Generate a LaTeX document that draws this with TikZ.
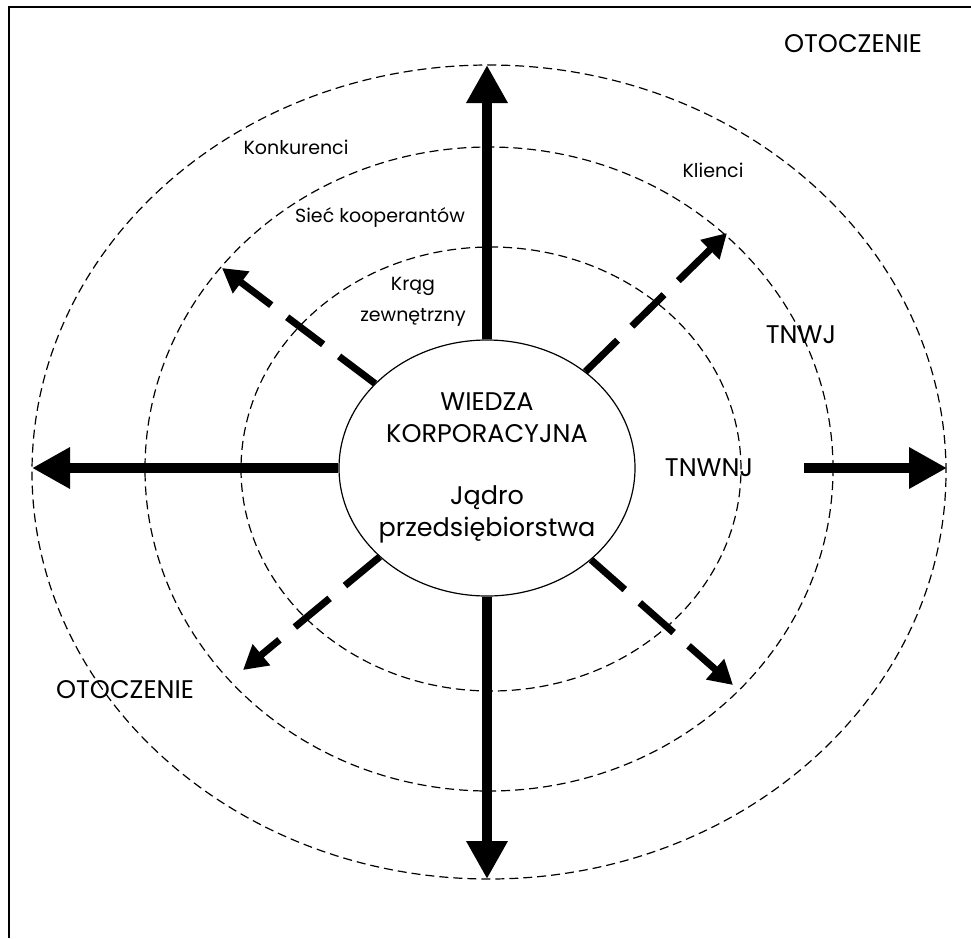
\documentclass[tikz,border=0pt]{standalone}
\usepackage{fontspec}
\setmainfont{Poppins}
\usetikzlibrary{arrows.meta,shapes.geometric}

\begin{document}
\begin{tikzpicture}[x=1pt,y=-1pt,
  ring/.style={draw,line width=1.2pt,dash pattern=on 9pt off 5pt},
  bigarrow/.style={line width=10pt,-{Triangle[length=38pt,width=39pt]}},
  dasharrow/.style={line width=7pt,dash pattern=on 45pt off 20pt,-{Triangle[length=24pt,width=26pt]}},
  lbl/.style={font=\fontsize{19}{31}\selectfont,align=center,inner sep=0pt},
  biglbl/.style={font=\fontsize{25.5}{32}\selectfont,align=center,inner sep=0pt}]
\useasboundingbox (0,0) rectangle (971,938);

% frame
\draw[line width=1.5pt] (9,938) -- (9,7) -- (971,7);

% dashed rings
\draw[ring] (489,472) ellipse [x radius=457pt, y radius=407pt];
\draw[ring] (489,469) ellipse [x radius=344pt, y radius=322pt];
\draw[ring] (491,469) ellipse [x radius=250pt, y radius=222pt];

% core
\node[ellipse,draw,fill=white,line width=1.2pt,minimum width=296pt,minimum height=256pt,inner sep=0pt] (core) at (487,468) {};

% tips and free ends
\coordinate (tUp) at (487,65);
\coordinate (tDown) at (487,879);
\coordinate (tLeft) at (32,468);
\coordinate (tRight) at (947,468);
\coordinate (sRight) at (804,468);
\coordinate (tNW) at (222,268);
\coordinate (tNE) at (727,233);
\coordinate (tSE) at (733,685);
\coordinate (tSW) at (243,670);

% solid arrows
\draw[bigarrow] (core) -- (tUp);
\draw[bigarrow] (core) -- (tDown);
\draw[bigarrow] (core) -- (tLeft);
\draw[bigarrow] (sRight) -- (tRight);

% dashed arrows
\draw[dasharrow] (core) -- (tNW);
\draw[dasharrow] (core) -- (tNE);
\draw[dasharrow] (core) -- (tSE);
\draw[dasharrow] (core) -- (tSW);

% labels
\node[biglbl] (wiedza) at (487,418) {WIEDZA\\KORPORACYJNA};
\node[biglbl] (jadro) at (487,514) {Jądro\\przedsiębiorstwa};
\node[biglbl] (otoTop) at (853,44) {OTOCZENIE};
\node[biglbl] (otoLeft) at (125,690) {OTOCZENIE};
\node[biglbl] (tnwnj) at (709,468) {TNWNJ};
\node[biglbl] (tnwj) at (801,335) {TNWJ};
\node[lbl] (konk) at (296,147) {Konkurenci};
\node[lbl] (klienci) at (713,170) {Klienci};
\node[lbl] (siec) at (380,217) {Sieć kooperantów};
\node[lbl] (krag) at (413,302) {Krąg\\zewnętrzny};
\end{tikzpicture}
\end{document}
